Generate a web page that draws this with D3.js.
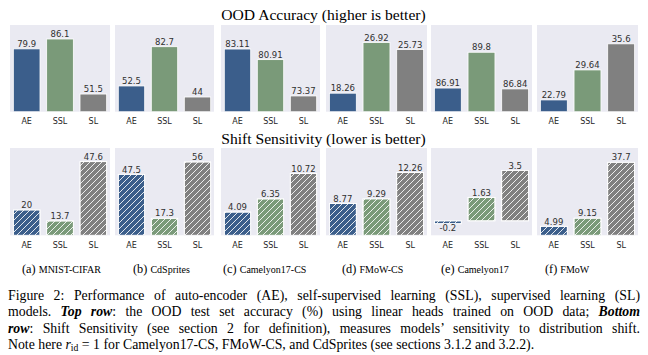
<!DOCTYPE html>
<html><head><meta charset="utf-8">
<script src="https://cdn.jsdelivr.net/npm/d3@7"></script>
<style>body{margin:0;background:#fff} svg{display:block}</style>
</head><body>
<script>
// ---------------- data ----------------
const datasets = ["MNIST-CIFAR", "CdSprites", "Camelyon17-CS", "FMoW-CS", "Camelyon17", "FMoW"];
const subLetters = ["(a)", "(b)", "(c)", "(d)", "(e)", "(f)"];
const methods = ["AE", "SSL", "SL"];
const oodAccuracy = [
  [79.9, 86.1, 51.5],
  [52.5, 82.7, 44],
  [83.11, 80.91, 73.37],
  [18.26, 26.92, 25.73],
  [86.91, 89.8, 86.84],
  [22.79, 29.64, 35.6]
];
const shiftSensitivity = [
  [20, 13.7, 47.6],
  [47.5, 17.3, 56],
  [4.09, 6.35, 10.72],
  [8.77, 9.29, 12.26],
  [-0.2, 1.63, 3.5],
  [4.99, 9.15, 37.7]
];
// per-panel y-axis limits
const accYLimits = [[40.4, 94.9], [32.7, 99.4], [70.1, 88.1], [15.1, 29.9], [85.0, 92.0], [20.1, 39.9]];
const shiftYLimits = [[5.5, 55.4], [5.6, 65.6], [0.1, 15.1], [5.2, 15.0], [-1.0, 5.05], [0.4, 45.0]];
const rowTitles = ["OOD Accuracy (higher is better)", "Shift Sensitivity (lower is better)"];

// ---------------- layout / style ----------------
const W = 648, H = 355;
const colors = {AE: "#3b5e8b", SSL: "#7a9a79", SL: "#808080"};
const panelX = [[10, 110], [115, 214], [221, 320], [326, 427], [431, 532], [537, 638]];
const subX = [22, 133, 223, 342, 441, 545];
const rows = [
  {values: oodAccuracy, lims: accYLimits, top: 25, bottom: 111.7, hatch: false, titleY: 19.5},
  {values: shiftSensitivity, lims: shiftYLimits, top: 148, bottom: 235.3, hatch: true, titleY: 144}
];
const sans = "'DejaVu Sans', sans-serif";
const serif = "'Liberation Serif', 'Times New Roman', serif";

const svg = d3.select("body").append("svg").attr("width", W).attr("height", H);
const defs = svg.append("defs");
const pat = defs.append("pattern").attr("id", "hatch")
  .attr("patternUnits", "userSpaceOnUse").attr("width", 6).attr("height", 6);
pat.append("path").attr("d", "M0,6 L6,0 M-1,1 L1,-1 M5,7 L7,5")
  .attr("stroke", "rgba(255,255,255,0.85)").attr("stroke-width", 1).attr("fill", "none");

rows.forEach((row, ri) => {
  svg.append("text").attr("x", 323.5).attr("y", row.titleY)
    .attr("text-anchor", "middle").attr("font-family", serif).attr("font-size", 15.6)
    .attr("fill", "#000").text(rowTitles[ri]);

  datasets.forEach((ds, pi) => {
    const [x0, x1] = panelX[pi];
    const g = svg.append("g");
    const cid = `clip-${ri}-${pi}`;
    defs.append("clipPath").attr("id", cid).append("rect")
      .attr("x", x0).attr("y", row.top).attr("width", x1 - x0).attr("height", row.bottom - row.top);
    g.append("rect").attr("x", x0).attr("y", row.top).attr("width", x1 - x0)
      .attr("height", row.bottom - row.top).attr("fill", "#eaeaf2");

    const x = d3.scaleBand().domain(methods).range([x0, x1]).paddingInner(0.2).paddingOuter(0.1);
    const y = d3.scaleLinear().domain(row.lims[pi]).range([row.bottom, row.top]);
    const base = Math.max(0, row.lims[pi][0]);
    const data = methods.map((m, i) => ({m, v: row.values[pi][i]}));

    const bars = g.append("g").attr("clip-path", `url(#${cid})`);
    bars.selectAll("rect.bar").data(data).join("rect").attr("class", "bar")
      .attr("x", d => x(d.m)).attr("width", x.bandwidth())
      .attr("y", d => Math.min(y(d.v), y(base)))
      .attr("height", d => Math.abs(y(base) - y(d.v)))
      .attr("fill", d => colors[d.m]).attr("stroke", "#fff").attr("stroke-width", 0.8);
    if (row.hatch) {
      bars.selectAll("rect.hatch").data(data).join("rect").attr("class", "hatch")
        .attr("x", d => x(d.m)).attr("width", x.bandwidth())
        .attr("y", d => Math.min(y(d.v), y(base)))
        .attr("height", d => Math.abs(y(base) - y(d.v)))
        .attr("fill", "url(#hatch)").attr("stroke", "#fff").attr("stroke-width", 0.8);
    }
    g.selectAll("text.val").data(data).join("text").attr("class", "val")
      .attr("x", d => x(d.m) + x.bandwidth() / 2)
      .attr("y", d => d.v >= 0 ? y(d.v) - 1.8 : y(d.v) + 7.6)
      .attr("text-anchor", "middle").attr("font-family", sans).attr("font-size", 8.5)
      .attr("fill", "#303030").text(d => String(d.v));

    const axis = g.append("g").attr("transform", `translate(0,${row.bottom})`)
      .call(d3.axisBottom(x).tickSize(0).tickPadding(6.9));
    axis.select(".domain").remove();
    axis.selectAll("text").attr("font-family", sans).attr("font-size", 8).attr("fill", "#262626");
  });
});

// sub-captions
datasets.forEach((ds, i) => {
  const t = svg.append("text").attr("x", subX[i]).attr("y", 273).attr("font-family", serif).attr("fill", "#000");
  t.append("tspan").attr("font-size", 12.3).text(subLetters[i] + " ");
  t.append("tspan").attr("font-size", 10).text(ds);
});

// caption
const capLines = [
  [{t: "Figure 2: Performance of auto-encoder (AE), self-supervised learning (SSL), supervised learning (SL)"}],
  [{t: "models. "}, {t: "Top row", bi: true}, {t: ": the OOD test set accuracy (%) using linear heads trained on OOD data; "}, {t: "Bottom", bi: true}],
  [{t: "row", bi: true}, {t: ": Shift Sensitivity (see section 2 for definition), measures models\u2019 sensitivity to distribution shift."}],
  [{t: "Note here "}, {t: "r", it: true}, {t: "id", sub: true}, {t: " = 1 for Camelyon17-CS, FMoW-CS, and CdSprites (see sections 3.1.2 and 3.2.2)."}]
];
const capY = [300, 316.3, 332.6, 348.9];
const capFont = 13.8;
capLines.forEach((line, li) => {
  const t = svg.append("text").attr("x", 8).attr("y", capY[li]).attr("font-family", serif)
    .attr("font-size", capFont).attr("fill", "#000");
  line.forEach((s, si) => {
    const ts = t.append("tspan").text(s.t);
    if (s.bi) ts.attr("font-weight", "bold").attr("font-style", "italic");
    if (s.it) ts.attr("font-style", "italic");
    if (s.sub) ts.attr("font-size", capFont * 0.7).attr("dy", 2.5);
    if (si > 0 && line[si - 1].sub) ts.attr("dy", -2.5);
  });
  if (li < 3) {
    const natural = t.node().getComputedTextLength();
    const spaces = line.map(s => s.t).join("").split(" ").length - 1;
    const extra = (632 - natural) / spaces;
    t.attr("word-spacing", extra);
  }
});
</script>
</body></html>
